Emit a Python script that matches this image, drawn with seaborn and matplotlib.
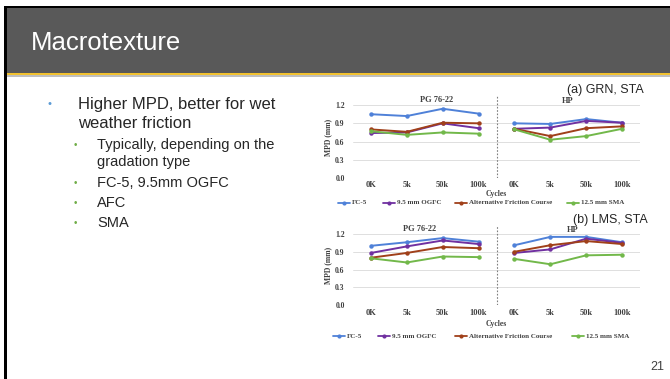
import matplotlib
matplotlib.use("Agg")
import matplotlib.pyplot as plt
import seaborn as sns
import pandas as pd
from matplotlib.patches import Rectangle
from matplotlib.lines import Line2D

sns.set_theme(style="white")
plt.rcParams['font.family'] = ['Liberation Sans', 'DejaVu Sans']

# ---------------- data ----------------
cycles = ["0K", "5k", "50k", "100k", "0K", "5k", "50k", "100k"]
groups = ["PG 76-22"] * 4 + ["HP"] * 4
mixes = ["FC-5", "9.5 mm OGFC", "Alternative Friction Course", "12.5 mm SMA"]
mix_colors = ["#4F81D8", "#7030A0", "#A0401A", "#72B84A"]

# panel (a) GRN, STA
a_fc5  = [1.05, 1.02, 1.14, 1.06, 0.90, 0.89, 0.97, 0.91]
a_ogfc = [0.74, 0.75, 0.90, 0.82, 0.81, 0.83, 0.94, 0.91]
a_afc  = [0.80, 0.76, 0.91, 0.90, 0.81, 0.69, 0.82, 0.85]
a_sma  = [0.77, 0.71, 0.75, 0.73, 0.80, 0.63, 0.69, 0.81]

# panel (b) LMS, STA
b_fc5  = [1.00, 1.06, 1.13, 1.07, 1.01, 1.15, 1.15, 1.06]
b_ogfc = [0.88, 0.99, 1.09, 1.03, 0.88, 0.94, 1.12, 1.05]
b_afc  = [0.80, 0.88, 0.98, 0.96, 0.90, 1.01, 1.08, 1.03]
b_sma  = [0.79, 0.72, 0.82, 0.81, 0.78, 0.69, 0.84, 0.85]

yticks = [0.0, 0.3, 0.6, 0.9, 1.2]

W, H = 670, 379
fig = plt.figure(figsize=(W / 100, H / 100), dpi=100)
fig.patch.set_facecolor("white")


def rect(x0, y0, x1, y1):
    return [x0 / W, 1 - y1 / H, (x1 - x0) / W, (y1 - y0) / H]


def fx(x):
    return x / W


def fy(y):
    return 1 - y / H


def box(x0, y0, x1, y1, color):
    r = rect(x0, y0, x1, y1)
    fig.add_artist(Rectangle((r[0], r[1]), r[2], r[3], transform=fig.transFigure,
                             facecolor=color, edgecolor="none", zorder=0))


# slide frame / header
box(4, 6, 670, 8, "black")
box(4, 6, 7, 379, "black")
box(7, 8, 670, 72.7, "#595959")
box(7, 72.7, 670, 75.0, "#F2C230")
box(7, 75.0, 670, 77.0, "#BFBFBF")
fig.text(fx(31), fy(43), "Macrotexture", color="white", fontsize=18.5,
         va="center", ha="left", family=["Liberation Sans"])

# bullet text
tc = "#262626"
fig.text(fx(50), fy(104), "•", color="#5B9BD5", fontsize=8, va="center", ha="center")
fig.text(fx(78), fy(104), "Higher MPD, better for wet", color=tc, fontsize=12, va="center")
fig.text(fx(78), fy(123), "weather friction", color=tc, fontsize=12, va="center")
subs = [("Typically, depending on the", 145, True), ("gradation type", 162, False),
        ("FC-5, 9.5mm OGFC", 183, True), ("AFC", 203, True), ("SMA", 223, True)]
for s, y, b in subs:
    if b:
        fig.text(fx(75), fy(y), "•", color="#70AD47", fontsize=7, va="center", ha="center")
    fig.text(fx(97), fy(y), s, color=tc, fontsize=10.5, va="center")

fig.text(fx(664), fy(367), "21", color="#404040", fontsize=9, ha="right", va="center")

serif = ["Liberation Serif", "DejaVu Serif"]


def long_df(vals):
    rows = []
    for mix, v in zip(mixes, vals):
        for i, (c, g, y) in enumerate(zip(cycles, groups, v)):
            rows.append(dict(pos=i, cycle=c, group=g, mix=mix, mpd=y, unit=mix + g))
    return pd.DataFrame(rows)


def panel(vals, top, bottom, label, lab_y, pg_x, pg_y, hp_x, cyc_y, leg_y, leg_x):
    ax = fig.add_axes(rect(353, top, 640, bottom))
    df = long_df(vals)
    sns.lineplot(data=df, x="pos", y="mpd", hue="mix", units="unit", estimator=None,
                 palette=dict(zip(mixes, mix_colors)), hue_order=mixes, marker="o",
                 markersize=3.2, markeredgewidth=0, linewidth=1.4, legend=False, ax=ax,
                 sort=False)
    ax.set_xlim(-0.5, 7.5)
    ax.set_ylim(0, 1.35)
    ax.set_yticks(yticks)
    ax.set_yticklabels([f"{t:.1f}" for t in yticks], family=serif, fontweight="bold",
                       fontsize=5.5, color="#404040")
    ax.set_xticks(range(len(cycles)))
    ax.set_xticklabels(cycles, family=serif, fontweight="bold", fontsize=6, color="#404040")
    ax.tick_params(axis="x", length=0, pad=2.5)
    ax.tick_params(axis="y", length=0, pad=6)
    for t in yticks:
        ax.axhline(t, color="#D9D9D9", lw=0.6, zorder=0)
    ax.axvline(3.5, color="#7F7F7F", lw=0.8, ls=(0, (1.5, 1.5)), ymin=0, ymax=1.0)
    for sp in ax.spines.values():
        sp.set_visible(False)
    ax.set_xlabel("")
    ax.set_ylabel("MPD (mm)", family=serif, fontweight="bold", fontsize=5.5,
                  color="#404040", labelpad=2)
    ax.set_facecolor("none")
    fig.text(fx(pg_x), fy(pg_y), "PG 76-22", family=serif, fontweight="bold", fontsize=6,
             ha="center", va="center", color="#404040")
    fig.text(fx(hp_x), fy(pg_y + 1), "HP", family=serif, fontweight="bold", fontsize=6,
             ha="center", va="center", color="#404040")
    fig.text(fx(lab_y[0]), fy(lab_y[1]), label, fontsize=9, ha="left", va="center",
             color="#262626")
    fig.text(fx(496), fy(cyc_y), "Cycles", family=serif, fontweight="bold", fontsize=5.5,
             ha="center", va="center", color="#404040")
    # legend
    for mix, col, x in zip(mixes, mix_colors, leg_x):
        fig.add_artist(Line2D([fx(x), fx(x + 12)], [fy(leg_y), fy(leg_y)],
                              transform=fig.transFigure, color=col, lw=1.3))
        fig.add_artist(Line2D([fx(x + 6)], [fy(leg_y)], transform=fig.transFigure,
                              color=col, marker="o", markersize=3, markeredgewidth=0))
        fig.text(fx(x + 14), fy(leg_y), mix, family=serif, fontweight="bold", fontsize=5,
                 ha="left", va="center", color="#404040")
    return ax


panel([a_fc5, a_ogfc, a_afc, a_sma], 96, 178, "(a) GRN, STA", (567, 90), 437, 100, 568,
      194.5, 203, [338, 383, 455, 567])
panel([b_fc5, b_ogfc, b_afc, b_sma], 225, 305.3, "(b) LMS, STA", (573, 220), 420, 229, 573,
      324.5, 336, [333, 378, 455, 572])

fig.savefig("out.png", dpi=100)
